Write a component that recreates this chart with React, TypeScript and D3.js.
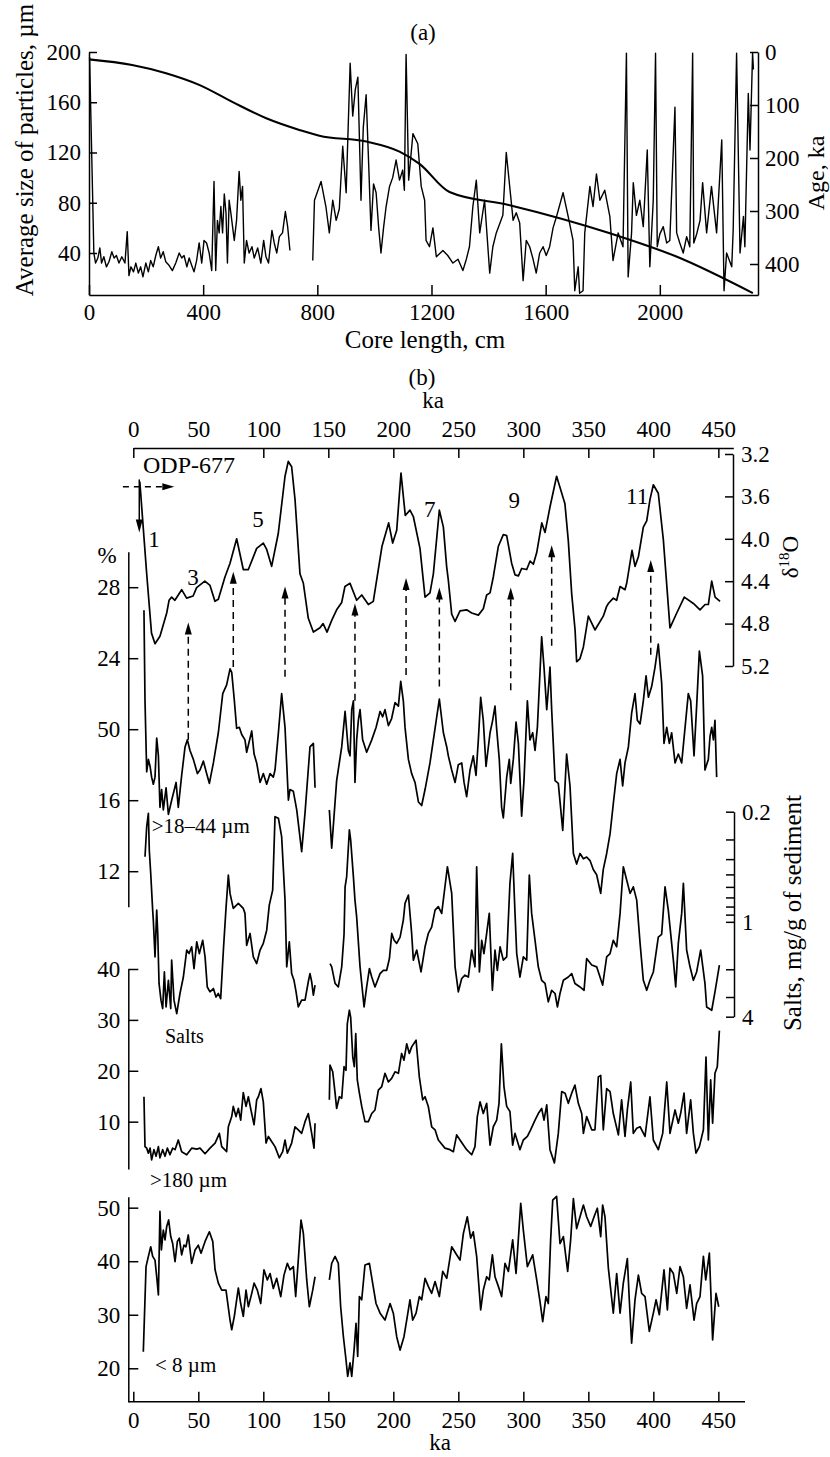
import React, { useEffect, useRef } from "react";
import * as d3 from "d3";

type Pt = [number, number];

// ---------- panel (a): mean grain size along the core (cm, µm) ----------
const sizeSegA1: Pt[] = [
  [2,196],[12,93],[17,40],[23,32],[31,36],[38,44],[44,32],[52,37],[61,29],[70,33],[80,41],[88,36],[96,38],[105,32],[115,37],[126,32],[134,57],[140,22],[147,29],[156,25],[164,32],[173,24],[181,29],[189,21],[199,32],[208,25],[216,34],[225,29],[234,38],[243,45],[251,36],[260,41],[269,33],[281,30],[292,26],[304,32],[316,40],[325,36],[333,38],[343,29],[351,36],[360,30],[368,25],[377,34],[386,48],[395,32],[403,50],[412,48],[421,40],[430,26],[438,97],[444,26],[450,66],[456,56],[462,77],[468,56],[474,87],[480,72],[485,32],[491,82],[497,72],[503,61],[509,50],[517,66],[526,105],[532,82],[538,93],[544,32],[552,50],[561,40],[571,45],[579,36],[591,44],[602,32],[612,50],[620,37],[629,32],[641,58],[649,48],[658,40],[667,53],[678,56],[688,73],[696,61],[704,42],
];
const sizeSegA2: Pt[] = [
  [784,34],[790,82],[813,97],[830,77],[842,56],[854,82],[866,66],[877,75],[889,125],[901,88],[915,191],[924,149],[933,170],[942,180],[953,82],[961,140],[971,166],[980,110],[988,58],[997,95],[1006,88],[1015,60],[1023,40],[1032,60],[1041,77],[1053,93],[1064,100],[1076,114],[1088,98],[1099,106],[1105,90],[1111,198],[1120,98],[1135,135],[1152,127],[1164,93],[1176,82],[1181,50],[1193,45],[1205,60],[1217,37],[1240,42],[1257,38],[1275,32],[1293,35],[1310,26],[1322,35],[1333,45],[1345,77],[1357,98],[1369,56],[1386,82],[1404,24],[1415,45],[1427,56],[1450,70],[1462,120],[1474,93],[1486,66],[1497,72],[1509,64],[1521,18],[1532,50],[1544,45],[1556,35],[1567,24],[1579,40],[1591,45],[1602,38],[1614,45],[1626,60],[1638,69],[1649,78],[1661,88],[1679,69],[1696,50],[1702,10],[1714,29],[1719,8],[1731,10],[1737,56],[1755,93],[1766,77],[1778,103],[1790,82],[1807,90],[1825,69],[1836,34],[1854,56],[1871,45],[1883,199],[1889,21],[1901,56],[1907,96],[1918,70],[1930,82],[1942,61],[1956,122],[1965,29],[1977,82],[1985,199],[1991,45],[2000,55],[2012,61],[2024,48],[2035,50],[2053,156],[2059,56],[2070,48],[2082,40],[2094,53],[2105,45],[2115,199],[2119,48],[2129,55],[2141,66],[2150,96],[2164,56],[2181,93],[2199,56],[2217,130],[2225,10],[2234,40],[2252,29],[2257,58],[2269,199],[2281,40],[2293,69],[2298,45],[2310,167],[2316,122],[2325,199],[2328,186],
];
// age model (cm, ka)
const ageModel: Pt[] = [
  [0,14],[151,24.5],[270,40],[386,62],[502,94],[621,125],[737,147],[807,158],[972,169],[1088,188],[1158,211],[1263,264],[1474,289],[1825,342],[2058,386],[2326,455],
];
const coreTicks = [0, 400, 800, 1200, 1600, 2000];
const sizeTicks = [40, 80, 120, 160, 200];
const ageTicks = [0, 100, 200, 300, 400];

// ---------- panel (b): records vs age (ka) ----------
const kaTicks = [0, 50, 100, 150, 200, 250, 300, 350, 400, 450];

// ODP-677 δ18O
const d18O: Pt[] = [
  [5,3.46],[10.3,4.33],[14,4.89],[16.7,4.99],[20.5,4.92],[25.7,4.7],[27.5,4.58],[29.5,4.55],[32,4.58],[37.2,4.48],[41,4.56],[46,4.54],[48.7,4.46],[55,4.4],[59,4.44],[62.8,4.59],[65.4,4.57],[70.5,4.36],[74.4,4.23],[79.5,4.0],[84.6,4.29],[88.5,4.29],[94.9,4.09],[100,4.04],[102.6,4.1],[106.4,4.26],[111.5,3.95],[116.7,3.41],[119.2,3.27],[121.8,3.32],[124.4,3.63],[128.2,4.33],[130.8,4.42],[134.6,4.75],[138.5,4.88],[143.6,4.84],[146,4.8],[149,4.88],[152.6,4.77],[156.4,4.67],[160.3,4.6],[162.8,4.45],[166.7,4.42],[171.8,4.58],[175.7,4.53],[180.8,4.62],[184.6,4.59],[191.3,4.07],[196.4,3.85],[199.5,4.04],[202.6,3.92],[205.9,3.38],[209.2,3.78],[212.8,3.73],[215.4,3.79],[220.5,4.09],[224.4,4.55],[228.2,4.51],[230.8,4.33],[235.4,3.73],[238.5,3.89],[241,4.26],[242.3,4.39],[244.9,4.71],[247.5,4.78],[251.3,4.68],[256.4,4.67],[260.3,4.7],[265.4,4.72],[269.2,4.66],[271.8,4.53],[274.4,4.51],[276.9,4.36],[280.8,4.07],[284.6,3.96],[287.2,3.97],[291,4.23],[293.6,4.34],[296.2,4.35],[298.7,4.28],[302.6,4.29],[305.2,4.21],[307.7,4.24],[310.3,4.13],[314.2,3.85],[316.7,3.94],[320.5,3.7],[325.6,3.41],[332,3.67],[334.6,4.02],[337.2,4.52],[339.8,4.86],[341,5.16],[343.6,5.13],[346.2,5.02],[350,4.73],[355.1,4.86],[361.5,4.73],[364,4.64],[365.4,4.61],[369.2,4.56],[371.8,4.58],[374.4,4.45],[378.2,4.48],[379.5,4.42],[383.6,4.11],[385.9,4.26],[388.5,4.17],[392.3,3.89],[394.9,3.83],[397.4,3.63],[400,3.49],[403.8,3.57],[407.7,4.01],[412.8,4.84],[418,4.7],[423.8,4.55],[430.8,4.61],[435.9,4.67],[439.8,4.62],[442.3,4.62],[444.9,4.4],[447.5,4.55],[451.3,4.59],
];
const d18OTicks = [3.2, 3.6, 4.0, 4.4, 4.8, 5.2];

// >18–44 µm fraction, %
const siltSeg1: Pt[] = [
  [8.2,26.7],[9.0,21.6],[10.3,17.6],[11.6,18.3],[12.9,17.9],[14.1,17.3],[15.4,16.9],[16.7,17.3],[18.0,19.5],[19.3,18.5],[20.5,15.6],[21.8,16.6],[23.1,15.45],[25.2,16.7],[27.0,15.2],[29.5,16.0],[32.9,17.0],[34.6,15.6],[37.2,17.4],[39.8,19.0],[41.6,19.4],[43.6,18.8],[46.2,18.3],[49.3,17.5],[51.3,17.7],[53.9,18.2],[56.4,17.5],[58.5,16.95],[61.6,18.1],[65.4,19.8],[68.8,22.0],[71.8,22.5],[74.4,23.4],[75.7,23.2],[77.5,21.8],[79.5,20.05],[81.6,20.1],[83.4,19.7],[85.9,19.4],[87.2,18.7],[91.1,19.9],[92.9,18.6],[94.9,18.1],[97.5,17.0],[100.0,17.5],[102.6,16.9],[105.2,17.5],[107.7,17.3],[109.0,17.7],[111.6,19.8],[114.1,22.0],[116.7,20.1],[119.3,16.0],[120.5,16.6],[123.1,16.5],[125.7,15.45],[129.5,13.1],[132.1,15.3],[135.9,19.0],[138.5,19.2],[139.8,16.7],
];
const siltSeg2: Pt[] = [
  [150.8,15.45],[152.6,13.3],[156.4,17.1],[160.3,19.0],[162.9,21.0],[165.4,18.8],[166.7,18.5],[168.0,21.1],[169.3,21.6],[170.5,17.0],[171.8,19.4],[173.1,20.5],[174.4,21.1],[176.4,19.4],[179.5,18.7],[183.4,19.4],[186.7,20.1],[189.8,21.0],[191.8,20.7],[193.6,21.1],[196.2,20.2],[198.7,20.6],[201.3,21.5],[203.9,21.3],[205.7,22.7],[207.7,21.6],[209.0,20.1],[211.6,18.3],[214.1,17.5],[216.7,17.0],[219.3,15.9],[221.8,15.7],[224.4,16.6],[228.2,18.1],[232.1,20.05],[235.4,21.7],[238.5,19.8],[241.1,19.0],[242.3,18.5],[244.9,17.7],[247.5,17.0],[250.0,18.0],[252.6,18.1],[254.4,17.0],[256.4,16.2],[259.0,17.7],[261.5,18.5],[263.6,17.4],[265.4,19.4],[267.2,21.8],[269.2,20.5],[271.3,17.9],[274.4,19.8],[276.4,20.5],[278.2,21.3],[279.5,20.0],[281.5,18.3],[283.3,15.6],[284.6,15.0],[287.2,17.3],[289.2,18.3],[290.3,16.95],[292.3,18.3],[294.4,20.4],[296.2,19.2],[298.7,15.1],[300.5,17.1],[303.1,21.6],[305.1,19.4],[307.2,19.8],[309.0,18.8],[310.8,20.1],[314.1,25.2],[315.9,23.5],[318.0,21.1],[319.2,22.2],[320.5,23.5],[321.8,21.1],[324.4,17.1],[326.9,16.95],[330.3,14.3],[333.3,18.6],[335.9,16.8],[338.5,13.0],[341.0,12.4],[343.6,13.0],[346.2,12.7],[348.7,12.8],[351.3,12.6],[353.8,12.1],[356.4,11.8],[359.5,10.75],[361.5,12.1],[364.1,13.0],[366.7,14.1],[369.2,15.8],[371.8,17.5],[374.4,18.3],[376.4,16.8],[378.2,18.1],[380.8,19.0],[383.3,20.9],[385.9,22.0],[387.7,20.5],[389.8,20.3],[392.3,21.6],[394.4,23.0],[396.2,21.8],[398.7,22.4],[401.3,23.5],[403.8,24.8],[406.4,22.6],[408.2,19.2],[410.3,20.1],[412.3,19.2],[414.1,19.8],[416.7,18.1],[419.2,18.6],[421.8,18.1],[424.4,20.1],[426.9,22.0],[428.7,21.6],[431.3,18.5],[433.3,21.3],[435.4,24.4],[437.9,23.0],[439.7,17.7],[442.3,18.3],[443.6,19.6],[444.9,20.1],[446.2,19.4],[447.4,20.5],[448.7,17.3],
];
const pctTicks = [12, 16, 20, 24, 28];
const pctTickLabels = ["12", "16", "50", "24", "28"];

// salts, mg/g of sediment (log axis, reversed)
const saltSeg1: Pt[] = [
  [9.0,0.386],[10.3,0.249],[11.6,0.205],[12.3,0.35],[13.4,0.493],[14.9,0.843],[15.4,0.975],[16.7,1.67],[18.0,0.843],[18.8,1.185],[19.8,2.46],[21.3,3.14],[22.6,3.55],[23.9,2.08],[25.2,3.47],[27.0,2.35],[28.8,3.55],[29.5,1.75],[31.3,3.14],[33.4,3.82],[35.9,2.85],[38.5,2.24],[41.1,1.51],[42.9,1.59],[44.9,1.44],[46.7,1.98],[48.8,1.34],[50.8,1.59],[53.4,1.31],[55.2,1.67],[56.9,2.59],[59.0,2.78],[61.6,2.65],[63.6,3.0],[65.4,2.85],[67.2,3.07],[69.3,1.51],[71.3,0.822],[73.1,0.505],[74.4,0.66],[76.9,0.822],[80.8,0.764],[84.6,0.822],[85.9,0.884],[87.2,1.41],[89.8,1.185],[92.3,1.67],[94.9,1.84],[97.5,1.51],[100.0,1.37],[102.6,1.13],[104.6,0.783],[107.2,0.629],[109.0,0.215],[111.6,0.22],[114.1,0.288],[116.7,0.728],[118.0,1.93],[120.0,1.34],[121.8,2.13],[123.6,2.35],[125.2,2.78],[126.9,3.47],[129.5,3.14],[132.1,3.14],[134.6,2.4],[135.9,2.13],[137.2,2.4],[138.5,2.92],[139.8,2.52],
];
const saltSeg2: Pt[] = [
  [151.3,1.84],[152.6,1.93],[155.2,2.46],[157.7,2.59],[160.3,1.93],[162.1,1.2],[162.9,0.6],[164.1,0.518],[166.2,0.261],[167.2,0.303],[169.3,0.518],[170.5,0.728],[171.8,0.93],[174.4,1.93],[177.5,3.47],[179.5,2.59],[181.6,1.98],[183.4,2.24],[185.9,2.59],[189.8,2.13],[192.3,2.03],[194.9,2.03],[197.0,1.71],[198.8,1.185],[200.6,1.31],[202.6,1.37],[205.2,1.25],[207.7,0.975],[209.0,0.764],[211.6,0.676],[214.1,1.185],[215.4,1.75],[218.0,1.51],[221.3,2.08],[224.4,1.44],[226.9,1.185],[229.5,1.08],[232.1,0.843],[234.6,0.8],[237.2,0.884],[241.6,0.447],[244.9,0.66],[247.5,1.93],[250.0,2.78],[252.6,2.29],[255.1,2.18],[257.7,2.24],[260.3,1.51],[262.8,1.93],[264.1,0.447],[266.2,2.08],[268.0,1.31],[269.7,1.59],[271.8,1.185],[273.8,0.884],[276.2,2.72],[278.2,1.51],[280.0,2.03],[282.1,1.44],[284.6,1.75],[287.2,1.67],[289.7,0.57],[291.8,0.367],[293.6,0.884],[294.9,1.59],[297.4,2.24],[300.0,1.67],[302.6,1.75],[304.6,0.505],[306.4,0.884],[309.0,1.31],[311.5,1.93],[314.1,2.35],[316.7,2.46],[319.2,3.22],[321.8,2.72],[324.4,2.85],[326.2,3.47],[328.2,2.85],[330.8,2.35],[334.6,2.24],[337.2,2.13],[339.7,2.46],[343.6,2.59],[346.7,2.72],[348.7,1.71],[352.6,1.88],[356.4,1.93],[361.0,2.52],[364.1,1.67],[366.7,1.59],[369.2,1.31],[371.8,1.44],[374.4,0.884],[376.9,0.447],[379.5,0.543],[382.1,0.66],[384.6,0.6],[387.2,0.728],[389.8,1.37],[392.3,2.35],[394.9,2.72],[397.4,2.35],[400.0,2.08],[403.8,1.25],[406.4,1.2],[409.0,0.6],[411.5,0.843],[415.4,1.75],[417.2,2.59],[419.2,1.37],[421.8,0.884],[423.1,0.57],[425.6,1.51],[428.2,1.93],[430.8,2.35],[433.3,2.08],[436.4,1.51],[439.7,2.46],[441.0,3.47],[444.9,3.64],[447.4,2.78],[450.8,1.88],
];
const saltTicks = [0.2, 0.3, 0.4, 0.5, 0.6, 0.7, 0.8, 0.9, 1, 2, 3, 4];
const saltTickLabels = ["0.2", "", "", "", "", "", "", "", "1", "", "", "4"];

// >180 µm fraction, %
const sandSeg1: Pt[] = [
  [8.2,14.9],[9.0,5.1],[10.3,4.8],[11.6,3.8],[12.9,4.8],[14.1,2.5],[15.9,4.5],[17.5,3.2],[19.3,5.1],[20.5,2.9],[22.6,4.5],[24.4,3.2],[26.2,4.8],[28.2,3.5],[30.3,4.8],[32.1,4.5],[34.6,6.4],[37.2,4.1],[41.1,3.5],[44.9,4.8],[48.8,4.6],[51.3,4.8],[55.2,3.7],[59.0,4.8],[62.9,5.8],[66.2,7.7],[68.0,5.1],[71.8,4.1],[73.1,9.0],[75.7,11.0],[76.9,13.0],[79.0,11.0],[80.8,12.6],[82.6,10.3],[84.6,15.7],[86.7,13.0],[88.5,14.9],[90.5,12.3],[92.9,9.4],[94.9,14.3],[96.2,14.9],[98.2,16.5],[100.0,13.9],[102.1,5.8],[103.9,7.1],[106.4,6.1],[109.0,5.1],[112.3,2.9],[114.9,4.1],[116.7,6.4],[118.5,3.8],[121.8,5.8],[124.4,9.0],[126.9,8.4],[129.5,7.7],[132.1,10.0],[134.6,11.6],[137.2,7.7],[139.0,4.8],[139.8,9.7],
];
const sandSeg2: Pt[] = [
  [150.8,14.3],[151.3,21.1],[153.4,19.8],[155.2,15.6],[156.4,12.6],[158.5,14.9],[160.3,14.6],[162.1,20.8],[163.6,20.1],[164.6,29.2],[166.2,31.9],[167.2,30.5],[168.8,22.7],[170.0,20.8],[171.1,27.3],[172.3,18.2],[173.9,15.6],[175.7,13.0],[178.2,10.0],[180.8,10.0],[183.4,11.6],[185.9,12.3],[188.5,16.2],[191.1,16.9],[193.6,19.5],[196.2,17.8],[198.7,18.5],[201.3,19.8],[203.9,19.5],[206.4,23.4],[208.2,22.1],[210.3,25.3],[212.3,23.4],[214.1,24.7],[217.5,26.0],[220.0,18.8],[222.6,14.3],[224.4,14.9],[226.9,13.0],[229.5,9.0],[232.1,8.4],[234.6,6.4],[236.5,5.8],[239.7,4.8],[243.6,4.5],[246.2,4.1],[248.7,7.4],[251.3,6.4],[253.9,5.4],[256.4,4.5],[260.3,3.5],[262.8,5.1],[264.6,11.0],[266.7,13.9],[269.2,11.6],[271.8,13.6],[274.4,5.4],[276.9,9.0],[279.5,10.3],[281.3,13.6],[283.1,25.3],[285.1,16.9],[287.2,13.0],[289.7,12.0],[291.8,5.4],[293.6,7.7],[297.4,4.5],[300.0,6.4],[303.1,7.1],[305.6,8.4],[309.0,10.3],[311.5,11.6],[314.1,12.6],[315.9,10.3],[318.0,13.3],[320.5,4.5],[323.9,1.9],[326.9,7.7],[329.5,15.9],[332.1,15.6],[334.6,13.6],[337.2,15.6],[339.7,17.2],[342.3,13.6],[344.9,11.6],[346.2,7.7],[348.7,11.0],[352.6,8.4],[355.1,8.4],[357.7,18.8],[359.5,19.1],[361.5,8.4],[364.1,16.5],[366.7,15.9],[369.2,11.6],[373.1,7.4],[375.6,14.3],[378.2,7.1],[380.0,12.3],[382.6,17.8],[384.6,7.7],[387.2,8.7],[389.8,9.0],[393.6,7.1],[397.4,14.9],[400.0,6.4],[403.8,4.5],[407.2,7.7],[410.3,17.8],[412.8,7.7],[416.7,12.3],[419.2,9.7],[421.0,11.6],[423.6,15.6],[425.6,7.7],[428.7,14.3],[430.8,7.7],[432.8,3.8],[435.4,5.1],[438.5,8.4],[440.5,22.7],[442.3,6.4],[444.1,18.2],[445.6,9.7],[447.4,19.5],[449.2,20.8],[450.8,27.9],
];
const sandTicks = [10, 20, 30, 40];

// < 8 µm fraction, %
const claySeg1: Pt[] = [
  [7.7,23.1],[9.8,39.0],[11.6,40.9],[13.4,42.7],[14.9,40.9],[16.7,40.2],[18.0,37.1],[19.3,33.7],[20.5,49.3],[21.6,42.1],[23.1,45.8],[24.4,44.0],[25.7,46.5],[27.2,47.7],[28.8,44.6],[30.3,43.3],[32.1,39.9],[33.9,43.7],[35.4,44.3],[37.2,41.2],[39.0,43.0],[40.5,42.7],[42.3,44.9],[44.9,39.6],[47.5,42.1],[50.0,43.0],[52.1,41.5],[55.2,43.7],[58.5,45.5],[61.1,43.7],[62.9,38.4],[65.4,35.9],[68.0,34.6],[71.3,34.6],[74.4,29.0],[75.7,27.2],[77.7,29.7],[80.8,35.0],[82.6,32.1],[84.6,29.7],[86.7,34.6],[88.5,31.5],[91.1,34.0],[92.9,35.9],[95.4,34.6],[98.0,32.1],[100.5,38.4],[103.1,36.5],[105.2,37.7],[107.7,34.9],[110.3,36.8],[113.4,33.4],[115.9,37.4],[118.5,39.6],[120.5,38.4],[123.1,39.0],[124.9,33.4],[126.9,40.2],[129.0,47.7],[130.8,45.2],[133.4,36.5],[135.4,31.5],[138.0,34.6],[139.8,37.1],
];
const claySeg2: Pt[] = [
  [150.8,36.5],[152.6,39.6],[155.2,40.9],[157.7,39.6],[159.5,31.5],[161.6,25.9],[163.6,21.6],[164.9,18.5],[166.7,21.0],[168.0,18.5],[169.8,23.4],[171.3,28.4],[172.6,22.2],[173.9,33.4],[175.7,32.8],[178.2,39.3],[181.6,39.6],[184.1,35.9],[186.7,32.1],[189.8,30.3],[193.6,29.0],[197.5,32.1],[200.0,30.3],[202.6,25.9],[205.2,23.4],[208.2,25.9],[210.3,29.0],[212.8,32.8],[214.9,29.0],[217.5,30.3],[220.0,33.4],[221.8,32.8],[224.4,36.8],[226.9,35.3],[229.5,34.0],[232.1,36.2],[235.4,33.4],[238.0,38.1],[241.1,36.8],[244.9,42.7],[248.7,41.2],[251.3,40.2],[253.9,45.2],[256.9,48.3],[259.5,44.3],[261.5,45.5],[264.1,40.9],[267.2,30.9],[269.2,34.6],[271.8,37.1],[273.8,36.5],[276.2,41.2],[278.2,37.1],[280.8,35.3],[283.3,33.4],[285.9,39.6],[288.5,38.1],[291.8,44.0],[294.4,37.7],[298.0,50.8],[300.0,45.8],[303.1,39.0],[307.2,41.2],[310.3,36.5],[312.8,32.5],[314.9,28.7],[317.4,33.4],[319.2,32.1],[321.0,44.0],[322.6,51.4],[325.6,52.1],[328.2,43.3],[330.8,44.6],[334.1,38.1],[336.4,44.0],[338.5,51.7],[341.0,46.1],[343.6,48.3],[346.2,50.5],[348.7,48.3],[351.8,46.5],[354.4,48.3],[356.9,49.9],[359.5,44.6],[361.0,50.5],[362.8,48.3],[365.4,38.7],[369.2,30.3],[371.8,37.7],[374.4,30.3],[376.9,35.9],[380.0,40.5],[381.5,32.8],[383.3,24.7],[385.9,32.8],[388.5,37.4],[391.0,34.0],[393.6,33.4],[396.9,26.9],[400.0,30.3],[402.1,32.8],[404.6,30.0],[408.2,38.4],[410.8,30.9],[412.8,38.7],[415.4,37.7],[418.0,34.0],[420.5,39.0],[423.1,37.1],[425.6,31.2],[428.2,35.6],[431.3,29.0],[433.3,32.1],[435.9,33.4],[438.5,40.9],[440.3,36.5],[443.1,41.5],[445.6,25.3],[448.2,34.0],[450.3,31.5],
];
const clayTicks = [20, 30, 40, 50];

// isotope stage numbers (ka, δ18O position)
const stageNames = ["1", "3", "5", "7", "9", "11"];
const stageKa = [16, 46, 96, 228, 293, 387.5];
const stageDelta = [4.08, 4.44, 3.89, 3.79, 3.71, 3.67];

// correlation arrows: age, tip on δ18O scale, base on % scale
const arrowKa = [42.3, 76.9, 116.7, 170.5, 209.8, 235.4, 290.3, 321.8, 398];
const arrowTip = [4.79, 4.31, 4.45, 4.61, 4.37, 4.46, 4.46, 4.06, 4.2];
const arrowBase = [19.4, 23.5, 22.96, 21.6, 23.05, 22.4, 22.2, 24.7, 24.2];

const FONT = "'Liberation Serif', 'Times New Roman', Times, serif";

function App() {
  const ref = useRef<SVGSVGElement | null>(null);

  useEffect(() => {
    const svg = d3.select(ref.current);
    svg.selectAll("*").remove();

    const styleAxis = (g: any, size: number) => {
      g.attr("font-family", FONT).attr("font-size", size);
      g.selectAll("path, line").attr("stroke", "#000").attr("stroke-width", 1.5);
      g.selectAll("text").attr("fill", "#000");
    };
    const addText = (x: number, y: number, t: string, size: number, anchor = "middle", rot = 0) => {
      const el = svg
        .append("text")
        .attr("font-family", FONT)
        .attr("font-size", size)
        .attr("text-anchor", anchor)
        .attr("fill", "#000")
        .text(t);
      if (rot) el.attr("transform", `translate(${x},${y}) rotate(${rot})`);
      else el.attr("x", x).attr("y", y);
      return el;
    };
    const drawLine = (data: Pt[], xs: any, ys: any, w: number) =>
      svg
        .append("path")
        .datum(data)
        .attr("fill", "none")
        .attr("stroke", "#000")
        .attr("stroke-width", w)
        .attr("stroke-linejoin", "round")
        .attr("d", d3.line<Pt>().x((d) => xs(d[0])).y((d) => ys(d[1])) as any);

    // ================= panel (a) =================
    const xa = d3.scaleLinear().domain([0, 2344]).range([89, 758]);
    const ya = d3.scaleLinear().domain([6.57, 200]).range([295, 52]);
    const yAge = d3.scaleLinear().domain([0, 458.5]).range([52, 295]);

    svg.append("g").attr("transform", "translate(0,295)")
      .call(d3.axisBottom(xa).tickValues(coreTicks).tickFormat(d3.format("d")).tickSize(-10).tickSizeOuter(0).tickPadding(9))
      .call((g) => styleAxis(g, 23));
    svg.append("g").attr("transform", "translate(89,0)")
      .call(d3.axisLeft(ya).tickValues(sizeTicks).tickSize(-8).tickSizeOuter(0).tickPadding(8))
      .call((g) => styleAxis(g, 23));
    svg.append("g").attr("transform", "translate(758,0)")
      .call(d3.axisRight(yAge).tickValues(ageTicks).tickSize(-8).tickSizeOuter(0).tickPadding(7))
      .call((g) => styleAxis(g, 23));

    drawLine(sizeSegA1, xa, ya, 1.4);
    drawLine(sizeSegA2, xa, ya, 1.4);
    svg.append("path")
      .datum(ageModel)
      .attr("fill", "none").attr("stroke", "#000").attr("stroke-width", 2.1)
      .attr("d", d3.line<Pt>().x((d) => xa(d[0])).y((d) => yAge(d[1])).curve(d3.curveMonotoneX) as any);

    addText(423, 40, "(a)", 23);
    addText(425, 348, "Core length, cm", 25);
    addText(33, 150, "Average size of particles, µm", 25, "middle", -90);
    addText(824, 173, "Age, ka", 24, "middle", -90);

    // ================= panel (b) =================
    const x = d3.scaleLinear().domain([0, 461.5]).range([133.3, 733.3]);
    const yD = d3.scaleLinear().domain([3.2, 5.2]).range([454, 666]);
    const yPct = d3.scaleLinear().domain([10, 30]).range([906.7, 551.7]);
    const ySalt = d3.scaleLog().domain([0.2, 4]).range([811.7, 1016.7]);
    const ySand = d3.scaleLinear().domain([0.7, 40]).range([1169, 969]);
    const yClay = d3.scaleLinear().domain([13.76, 52.05]).range([1401.7, 1196.7]);

    addText(422, 385, "(b)", 23);
    addText(433, 408, "ka", 23);

    const top = svg.append("g").attr("transform", "translate(0,448)")
      .call(d3.axisTop(x).tickValues(kaTicks).tickSize(-10).tickSizeOuter(0).tickPadding(11))
      .call((g) => styleAxis(g, 23));
    top.selectAll(".tick").filter((d: any) => d === 50).select("line").remove();

    svg.append("g").attr("transform", "translate(733,0)")
      .call(d3.axisRight(yD).tickValues(d18OTicks).tickFormat(d3.format(".1f")).tickSize(-8).tickSizeOuter(0).tickPadding(8))
      .call((g) => styleAxis(g, 23));
    const dl = addText(798, 557, "", 23, "middle", -90);
    dl.append("tspan").text("δ");
    dl.append("tspan").attr("font-size", 15).attr("dy", -9).text("18");
    dl.append("tspan").attr("dy", 9).text("O");

    svg.append("g").attr("transform", "translate(128.3,0)")
      .call(d3.axisLeft(yPct).tickValues(pctTicks).tickFormat((_d: any, i: number) => pctTickLabels[i]).tickSize(-10).tickSizeOuter(0).tickPadding(8))
      .call((g) => styleAxis(g, 23));
    addText(107, 563, "%", 23);

    svg.append("g").attr("transform", "translate(734,0)")
      .call(d3.axisRight(ySalt).tickValues(saltTicks).tickFormat((_d: any, i: number) => saltTickLabels[i]).tickSize(-8).tickSizeOuter(0).tickPadding(8))
      .call((g) => styleAxis(g, 23));
    addText(801, 913, "Salts, mg/g of sediment", 25, "middle", -90);

    svg.append("g").attr("transform", "translate(128.3,0)")
      .call(d3.axisLeft(ySand).tickValues(sandTicks).tickSize(-10).tickSizeOuter(0).tickPadding(8))
      .call((g) => styleAxis(g, 23));
    svg.append("g").attr("transform", "translate(128.3,0)")
      .call(d3.axisLeft(yClay).tickValues(clayTicks).tickSize(-10).tickSizeOuter(0).tickPadding(8))
      .call((g) => styleAxis(g, 23));

    const bottom = svg.append("g").attr("transform", "translate(0,1401.7)")
      .call(d3.axisBottom(x).tickValues(kaTicks).tickSize(-10).tickSizeOuter(0).tickPadding(10))
      .call((g) => styleAxis(g, 23));
    bottom.select(".domain").remove();
    bottom.append("line").attr("x1", 128.3).attr("x2", 745).attr("stroke", "#000").attr("stroke-width", 1.5);
    addText(440, 1450, "ka", 23);

    // curves
    drawLine(d18O, x, yD, 1.7);
    [siltSeg1, siltSeg2].forEach((s) => drawLine(s, x, yPct, 1.7));
    [saltSeg1, saltSeg2].forEach((s) => drawLine(s, x, ySalt, 1.7));
    [sandSeg1, sandSeg2].forEach((s) => drawLine(s, x, ySand, 1.7));
    [claySeg1, claySeg2].forEach((s) => drawLine(s, x, yClay, 1.7));

    // stage numbers
    stageNames.forEach((t, i) => addText(x(stageKa[i]), yD(stageDelta[i]), t, 23));

    // dashed correlation arrows
    arrowKa.forEach((k, i) => {
      const ax = x(k);
      const tip = yD(arrowTip[i]);
      svg.append("line")
        .attr("x1", ax).attr("x2", ax)
        .attr("y1", yPct(arrowBase[i])).attr("y2", tip + 8)
        .attr("stroke", "#000").attr("stroke-width", 1.5).attr("stroke-dasharray", "7,5");
      svg.append("path")
        .attr("d", `M${ax},${tip}L${ax - 3.5},${tip + 12}L${ax + 3.5},${tip + 12}Z`)
        .attr("fill", "#000");
    });

    // ODP-677 marker arrows
    addText(143, 473, "ODP-677", 24, "start");
    const hy = yD(3.51);
    svg.append("line").attr("x1", x(-8)).attr("x2", x(27)).attr("y1", hy).attr("y2", hy)
      .attr("stroke", "#000").attr("stroke-width", 1.5).attr("stroke-dasharray", "6,5");
    svg.append("path").attr("d", `M${x(30) + 2},${hy}L${x(30) - 10},${hy - 3.5}L${x(30) - 10},${hy + 3.5}Z`).attr("fill", "#000");
    const vx = x(4.6);
    svg.append("line").attr("x1", vx).attr("x2", vx).attr("y1", yD(3.44)).attr("y2", yD(3.85))
      .attr("stroke", "#000").attr("stroke-width", 1.5);
    svg.append("path").attr("d", `M${vx},${yD(3.94)}L${vx - 3.5},${yD(3.94) - 13}L${vx + 3.5},${yD(3.94) - 13}Z`).attr("fill", "#000");

    // series labels
    addText(151.7, 833, ">18–44 µm", 21, "start");
    addText(165, 1043, "Salts", 20, "start");
    addText(150, 1187, ">180 µm", 21, "start");
    addText(155, 1372, "< 8 µm", 21, "start");
  }, []);

  return (
    <svg
      ref={ref}
      width={830}
      height={1457}
      style={{ position: "absolute", left: 0, top: 0, background: "#fff" }}
    />
  );
}

export default App;
